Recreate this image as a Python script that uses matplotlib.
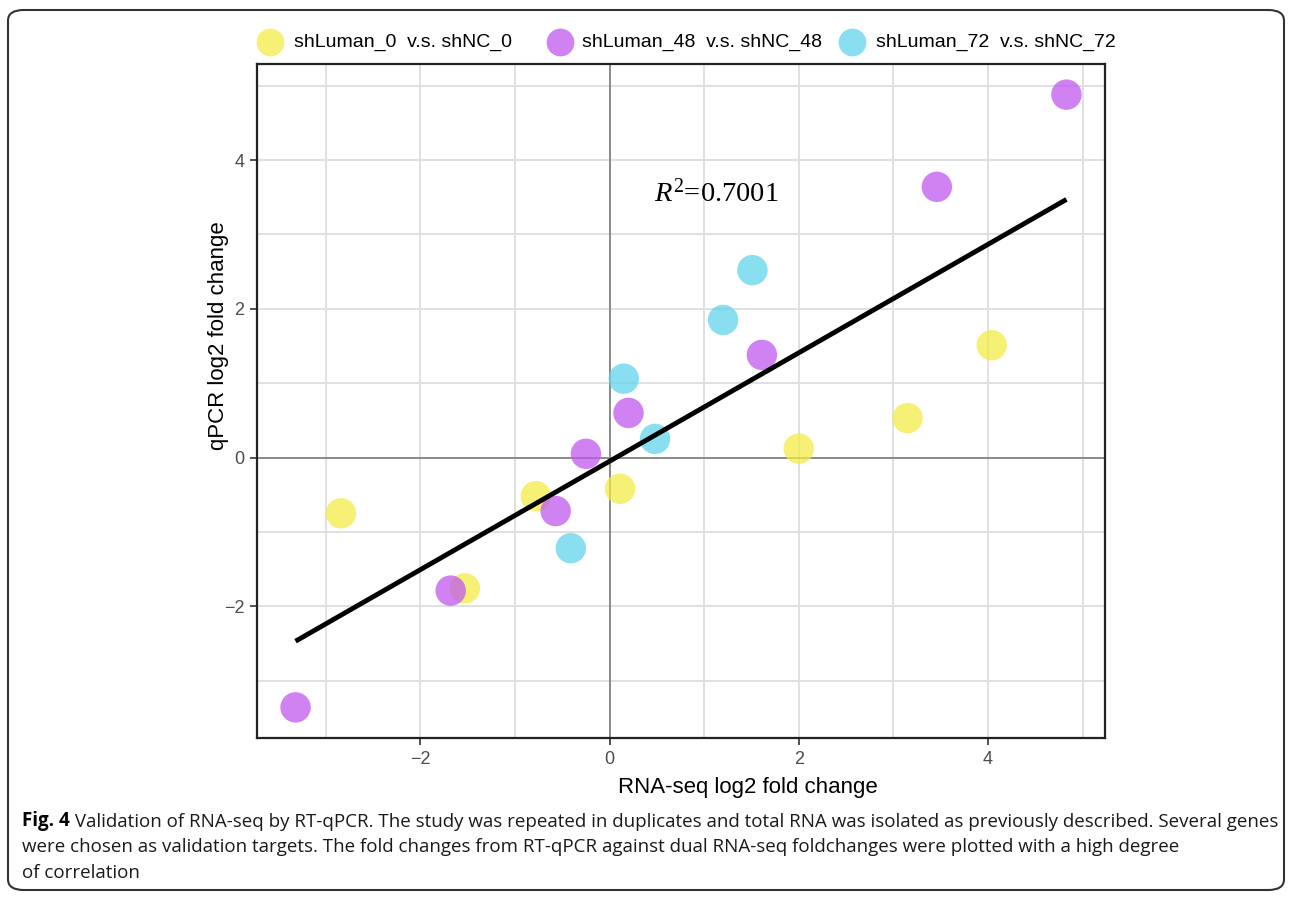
### Import ###

import numpy as np
import matplotlib
matplotlib.use("Agg")
import matplotlib.pyplot as plt
from matplotlib.patches import FancyBboxPatch
from matplotlib.lines import Line2D

### Data ###

groups = ["shLuman_0  v.s. shNC_0", "shLuman_48  v.s. shNC_48", "shLuman_72  v.s. shNC_72"]
colors = ["#F3EB45", "#C158F0", "#62D4EC"]

rnaseq_0 = [-2.84, -0.78, 0.11, -1.53, 2.00, 3.15, 4.04]
qpcr_0 = [-0.75, -0.52, -0.42, -1.76, 0.12, 0.53, 1.51]

rnaseq_48 = [4.83, 3.46, 1.61, 0.20, -0.25, -0.57, -1.68, -3.32]
qpcr_48 = [4.88, 3.64, 1.38, 0.60, 0.05, -0.72, -1.79, -3.36]

rnaseq_72 = [1.51, 1.20, 0.15, 0.48, -0.41]
qpcr_72 = [2.52, 1.85, 1.06, 0.25, -1.22]

# regression line as drawn in the figure
fit_slope = 0.729
fit_intercept = -0.05
r2_label = r"$R^2$=0.7001"

xlab = "RNA-seq log2 fold change"
ylab = "qPCR log2 fold change"
caption_bold = "Fig. 4"
caption_lines = [
    " Validation of RNA-seq by RT-qPCR. The study was repeated in duplicates and total RNA was isolated as previously described. Several genes",
    "were chosen as validation targets. The fold changes from RT-qPCR against dual RNA-seq foldchanges were plotted with a high degree",
    "of correlation",
]

### Figure ###

plt.rcParams["font.family"] = ["Liberation Sans", "DejaVu Sans"]
plt.rcParams["mathtext.fontset"] = "custom"
plt.rcParams["mathtext.it"] = "Liberation Serif:italic"
plt.rcParams["mathtext.rm"] = "Liberation Serif"

W, H = 1290, 898
fig = plt.figure(figsize=(W / 100, H / 100), dpi=100)
ax = fig.add_axes([257 / W, 1 - 738 / H, (1105 - 257) / W, (738 - 64) / H])

xs = [rnaseq_0, rnaseq_48, rnaseq_72]
ys = [qpcr_0, qpcr_48, qpcr_72]

# grid + zero lines
for v in [-3, -2, -1, 0, 1, 2, 3, 4, 5]:
    ax.axvline(v, color="#E0E0E0", lw=1.4, zorder=0)
    ax.axhline(v, color="#E0E0E0", lw=1.4, zorder=0)
ax.axvline(0, color="#8A8A8A", lw=1.4, zorder=1)
ax.axhline(0, color="#8A8A8A", lw=1.4, zorder=1)

for x, y, c in zip(xs, ys, colors):
    ax.scatter(x, y, s=480, color=c, alpha=0.75, edgecolors="none", zorder=3)

allx = np.concatenate([np.array(v) for v in xs])
ally = np.concatenate([np.array(v) for v in ys])
fx = np.array([allx.min(), allx.max()])
ax.plot(fx, fit_slope * fx + fit_intercept, color="black", lw=3.5, zorder=4, solid_capstyle="butt")

ax.text(1.13, 3.55, r2_label, fontsize=20.5, family="Liberation Serif", ha="center", va="center", zorder=5)

# ggplot-like expansion (5%)
xspan = allx.max() - allx.min()
yspan = ally.max() - ally.min()
ax.set_xlim(allx.min() - 0.05 * xspan, allx.max() + 0.05 * xspan)
ax.set_ylim(ally.min() - 0.05 * yspan, ally.max() + 0.05 * yspan)

ax.set_xticks([-2, 0, 2, 4])
ax.set_yticks([-2, 0, 2, 4])
ax.set_xticklabels(["\u22122", "0", "2", "4"])
ax.set_yticklabels(["\u22122", "0", "2", "4"])
ax.tick_params(colors="#333333", labelcolor="#4D4D4D", labelsize=13, length=5, width=1.2, pad=4)
for s in ax.spines.values():
    s.set_linewidth(1.6)
    s.set_color("#222222")

ax.set_xlabel(xlab, fontsize=16)
ax.set_ylabel(ylab, fontsize=16)
ax.xaxis.set_label_coords((748 - 257) / 848, (738 - 777) / 674)
ax.yaxis.set_label_coords((229 - 257) / 848, (738 - 336) / 674)

# legend at top, placed by hand
leg_circle_x = [270, 560, 852]
leg_text_x = [294, 582, 876]
for cx, tx, c, g in zip(leg_circle_x, leg_text_x, colors, groups):
    fig.add_artist(Line2D([cx / W], [1 - 42 / H], marker="o", linestyle="none", markersize=20, color=c,
                          alpha=0.75, markeredgewidth=0, transform=fig.transFigure))
    fig.text(tx / W, 1 - 42 / H, g, fontsize=14, va="center", ha="left")

# caption
cap_font = ["Open Sans", "DejaVu Sans"]
t0 = fig.text(22 / W, 1 - 826 / H, caption_bold, fontsize=13.5, weight="bold", family=cap_font, va="baseline")
ax.annotate(caption_lines[0], xy=(1, 0), xycoords=t0, va="bottom", fontsize=13.5,
            family=cap_font, color="#1A1A1A", annotation_clip=False)
fig.text(22 / W, 1 - 852 / H, caption_lines[1], fontsize=13.5, family=cap_font, va="baseline", color="#1A1A1A")
fig.text(22 / W, 1 - 878 / H, caption_lines[2], fontsize=13.5, family=cap_font, va="baseline", color="#1A1A1A")

# rounded frame round the whole figure
frame = FancyBboxPatch((8 / W, 1 - 890 / H), 1276 / W, 880 / H,
                       boxstyle="round,pad=0,rounding_size=0.012", transform=fig.transFigure,
                       fill=False, edgecolor="#333333", lw=1.5)
fig.patches.append(frame)

fig.savefig("out.png", dpi=100)
